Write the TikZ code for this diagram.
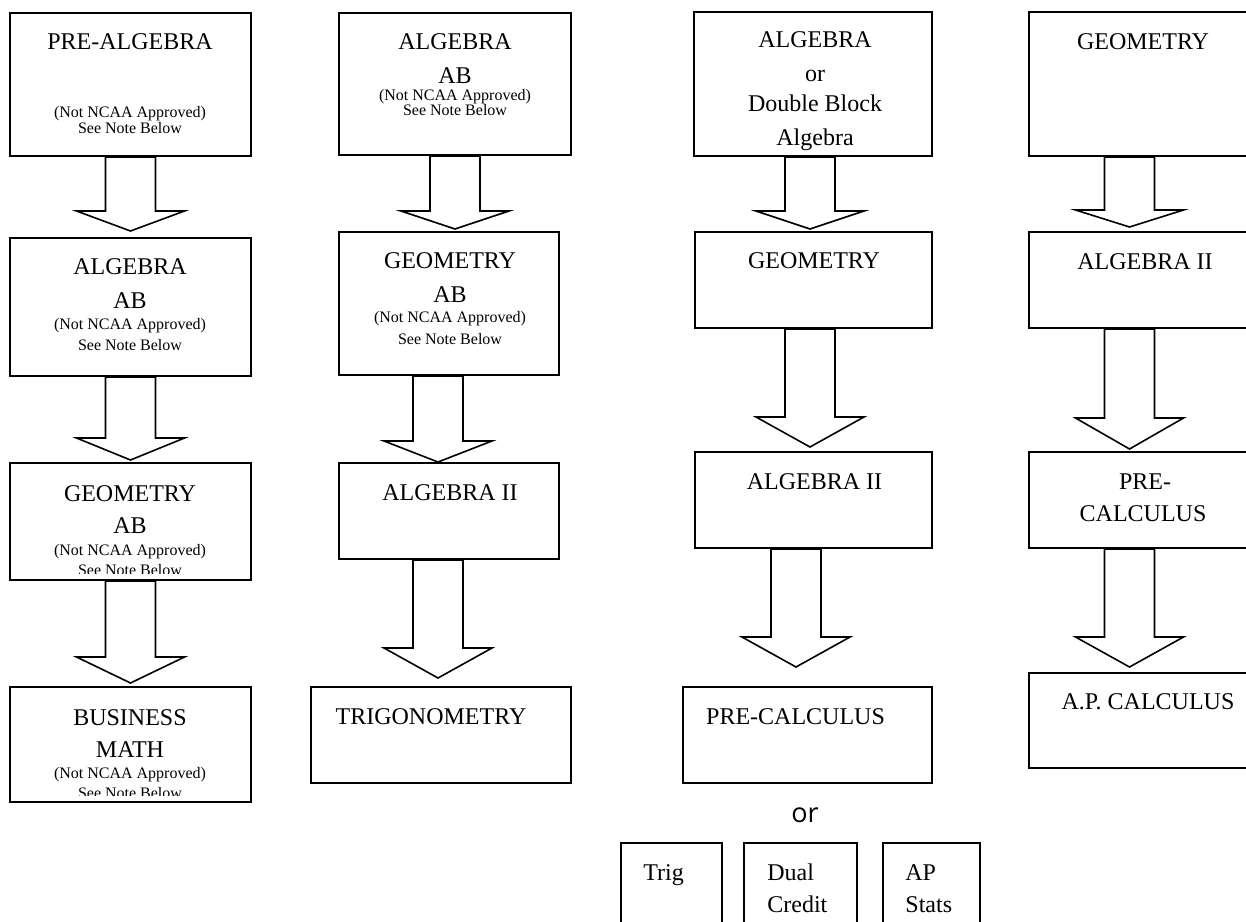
\documentclass[tikz,border=0pt]{standalone}
\usepackage{fontspec}
\setmainfont{Liberation Serif}
\newfontfamily\orfont{Open Sans}
\usetikzlibrary{calc}

\begin{document}
\begin{tikzpicture}[x=0.5pt, y=-0.5pt,
    course/.style={draw, line width=1pt, fill=white, inner sep=0pt},
    big/.style={font=\fontsize{12}{14}\selectfont, inner sep=0pt},
    small/.style={font=\fontsize{8}{9}\selectfont, inner sep=0pt},
    flow/.style={line width=0.8pt, fill=white, to path={let \p1=(\tikztostart), \p2=(\tikztotarget) in
        (\x1-12.5pt,\y1) -- (\x1-12.5pt,\y2+#1) -- (\x1-27pt,\y2+#1) -- (\x1,\y2)
        -- (\x1+27pt,\y2+#1) -- (\x1+12.5pt,\y2+#1) -- (\x1+12.5pt,\y1) -- cycle}},
    flow/.default=10pt]
    \clip (0,0) rectangle (1246,921);

    % first column
    \node[course, minimum width=120.5pt, minimum height=71.5pt] (prealg) at (130.5,84.5) {};
    \node[course, minimum width=120.5pt, minimum height=69pt] (algab) at (130.5,307) {};
    \node[course, minimum width=120.5pt, minimum height=58.5pt] (geomab) at (130.5,521.5) {};
    \node[course, minimum width=120.5pt, minimum height=57.5pt] (busmath) at (130.5,744.5) {};

    % second column
    \node[course, minimum width=116pt, minimum height=71pt] (algabB) at (455,84) {};
    \node[course, minimum width=110pt, minimum height=71.5pt] (geomabB) at (449,303.5) {};
    \node[course, minimum width=110pt, minimum height=48pt] (algiiB) at (449,511) {};
    \node[course, minimum width=130pt, minimum height=48pt] (trigB) at (441,735) {};

    % third column
    \node[course, minimum width=119pt, minimum height=72pt] (algC) at (813,84) {};
    \node[course, minimum width=118.5pt, minimum height=48pt] (geomC) at (813.5,280) {};
    \node[course, minimum width=118.5pt, minimum height=48pt] (algiiC) at (813.5,500) {};
    \node[course, minimum width=124.5pt, minimum height=48pt] (precalcC) at (807.5,735) {};

    % fourth column
    \node[course, minimum width=116pt, minimum height=72pt] (geomD) at (1145,84) {};
    \node[course, minimum width=116pt, minimum height=48pt] (algiiD) at (1145,280) {};
    \node[course, minimum width=116pt, minimum height=48pt] (precalcD) at (1145,500) {};
    \node[course, minimum width=116pt, minimum height=47.5pt] (apcalcD) at (1145,720.5) {};

    % choices under pre-calculus
    \node[course, minimum width=50.5pt, minimum height=48.5pt] (trigE) at (671.5,891.5) {};
    \node[course, minimum width=56.5pt, minimum height=48.5pt] (dualE) at (800.5,891.5) {};
    \node[course, minimum width=48.5pt, minimum height=48.5pt] (statsE) at (931.5,891.5) {};

    % arrows
    \draw[flow] (prealg.south) to ([yshift=3pt]algab.north);
    \draw[flow=11pt] (algab.south) to ([yshift=1pt]geomab.north);
    \draw[flow=13pt] (geomab.south) to ([yshift=1.5pt]busmath.north);

    \draw[flow=9pt] (algabB.south) to ([yshift=1pt]geomabB.north);
    \draw[flow=10.5pt] ([xshift=-5.5pt]geomabB.south) to (algiiB.north);
    \draw[flow=15pt] ([xshift=-5.5pt]algiiB.south) to ([yshift=4pt]trigB.north);

    \draw[flow=9pt] ([xshift=-1.5pt]algC.south) to ([yshift=1pt]geomC.north);
    \draw[flow=15pt] ([xshift=-1.75pt]geomC.south) to ([yshift=2pt]algiiC.north);
    \draw[flow=15pt] ([xshift=-8.75pt]algiiC.south) to ([yshift=9.5pt]precalcC.north);

    \draw[flow=8.5pt] ([xshift=-7.75pt]geomD.south) to ([yshift=2pt]algiiD.north);
    \draw[flow=15.5pt] ([xshift=-7.75pt]algiiD.south) to ([yshift=1pt]precalcD.north);
    \draw[flow=15pt] ([xshift=-7.75pt]precalcD.south) to ([yshift=2.5pt]apcalcD.north);

    % texts, first column
    \node[big] (tprealg) at (130,42) {PRE-ALGEBRA};
    \node[small] (nprealg) at (130,114) {(Not NCAA Approved)};
    \node[small] (sprealg) at (130,128.5) {See Note Below};

    \node[big] (talgab) at (130,267) {ALGEBRA};
    \node[big] (ualgab) at (130,301) {AB};
    \node[small] (nalgab) at (130,326) {(Not NCAA Approved)};
    \node[small] (salgab) at (130,345) {See Note Below};

    \node[big] (tgeomab) at (130,494) {GEOMETRY};
    \node[big] (ugeomab) at (130,526) {AB};
    \node[small] (ngeomab) at (130,552) {(Not NCAA Approved)};
    \begin{scope}
        \clip (10,463) rectangle (251,573.5);
        \node[small] (sgeomab) at (130,570) {See Note Below};
    \end{scope}

    \node[big] (tbusmath) at (130,718) {BUSINESS};
    \node[big] (ubusmath) at (130,750) {MATH};
    \node[small] (nbusmath) at (130,775) {(Not NCAA Approved)};
    \begin{scope}
        \clip (10,687) rectangle (251,795);
        \node[small] (sbusmath) at (130,793) {See Note Below};
    \end{scope}

    % texts, second column
    \node[big] (talgabB) at (455,42) {ALGEBRA};
    \node[big] (ualgabB) at (455,76) {AB};
    \node[small] (nalgabB) at (455,96.5) {(Not NCAA Approved)};
    \node[small] (salgabB) at (455,110.5) {See Note Below};

    \node[big] (tgeomabB) at (450,261) {GEOMETRY};
    \node[big] (ugeomabB) at (450,295) {AB};
    \node[small] (ngeomabB) at (450,319) {(Not NCAA Approved)};
    \node[small] (sgeomabB) at (450,339) {See Note Below};

    \node[big] (talgiiB) at (450,493) {ALGEBRA II};
    \node[big] (ttrigB) at (431,717) {TRIGONOMETRY};

    % texts, third column
    \node[big, anchor=base] (talgC) at (815,47) {ALGEBRA};
    \node[big, anchor=base] (oalgC) at (815,81) {or};
    \node[big, anchor=base] (dalgC) at (815,111) {Double Block};
    \node[big, anchor=base] (aalgC) at (815,145) {Algebra};

    \node[big] (tgeomC) at (814,261) {GEOMETRY};
    \node[big] (talgiiC) at (814.5,482) {ALGEBRA II};
    \node[big] (tprecalcC) at (795.5,717) {PRE-CALCULUS};

    % texts, fourth column
    \node[big] (tgeomD) at (1143,42) {GEOMETRY};
    \node[big] (talgiiD) at (1145,262) {ALGEBRA II};
    \node[big] (tprecalcD) at (1145,482) {PRE-};
    \node[big] (uprecalcD) at (1143,514) {CALCULUS};
    \node[big] (tapcalcD) at (1148,702) {A.P. CALCULUS};

    % choices
    \node[font=\orfont\fontsize{13.5}{16}\selectfont, inner sep=0pt] (orlbl) at (805,815) {or};
    \node[big, anchor=base west] (ttrigE) at (643,880) {Trig};
    \node[big, anchor=base west] (tdualE) at (767,880) {Dual};
    \node[big, anchor=base west] (udualE) at (767,912) {Credit};
    \node[big, anchor=base west] (tstatsE) at (905,880) {AP};
    \node[big, anchor=base west] (ustatsE) at (905,912) {Stats};
\end{tikzpicture}
\end{document}
